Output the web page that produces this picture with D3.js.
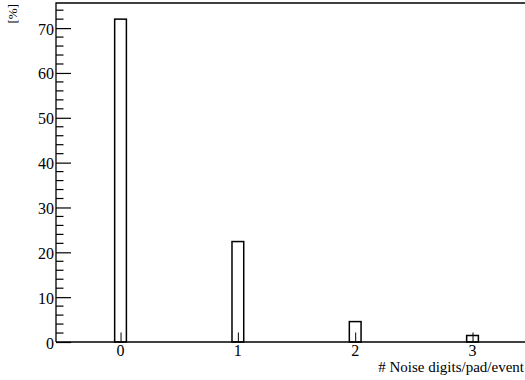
<!DOCTYPE html>
<html>
<head>
<meta charset="utf-8">
<script src="https://cdn.jsdelivr.net/npm/d3@7"></script>
<style>
  body{margin:0;background:#fff;}
  svg text{font-family:'Liberation Serif','Times New Roman',Tinos,FreeSerif,serif;}
</style>
</head>
<body>
<div class="canvas"></div>
<script>
// histogram data: bin centres and percentages
const bins=[0,1,2,3];
const pct=[72.0,22.4,4.55,1.45];
const xTicks=[0,1,2,3];
const yTicks=[0,10,20,30,40,50,60,70];
const binWidth=0.1;

const dims={width:525,height:380};
const frame={left:56,top:3,bottom:342};
const serif="'Liberation Serif','Times New Roman',Tinos,FreeSerif,serif";

const svg=d3.select('.canvas')
  .append('svg')
  .attr('width',dims.width)
  .attr('height',dims.height)
  .style('display','block');

// x range goes past the right edge, the picture is cut off there
const x=d3.scaleLinear().domain([-0.55,3.55]).range([frame.left,frame.left+4.1*117.33]);
const y=d3.scaleLinear().domain([0,75.6]).range([frame.bottom,frame.top]);

// bars
svg.append('g').selectAll('rect')
  .data(bins)
  .enter().append('rect')
  .attr('x',(d)=>x(d-binWidth/2))
  .attr('width',(d)=>x(d+binWidth/2)-x(d-binWidth/2))
  .attr('y',(d,i)=>y(pct[i]))
  .attr('height',(d,i)=>y(0)-y(pct[i]))
  .attr('fill','#fff')
  .attr('stroke','#000')
  .attr('stroke-width',1.5);

// frame (top + left), bottom drawn with x axis
svg.append('path')
  .attr('d',`M${frame.left},${frame.bottom}V${frame.top}H${dims.width+20}`)
  .attr('fill','none')
  .attr('stroke','#000')
  .attr('stroke-width',1.3);

// y axis: ticks point inwards, 5 subdivisions
const minor=d3.range(0,76,2).filter(v=>v%10!==0);
const yAxis=d3.axisRight(y).tickValues(yTicks).tickSize(15).tickFormat('');
const gy=svg.append('g').attr('transform',`translate(${frame.left},0)`).call(yAxis);
gy.select('.domain').remove();
gy.selectAll('line').attr('stroke-width',1.2);
gy.selectAll('.minor').data(minor).enter().append('line')
  .attr('class','minor')
  .attr('x1',0).attr('x2',7.5)
  .attr('y1',d=>y(d)).attr('y2',d=>y(d))
  .attr('stroke','#000').attr('stroke-width',1.2);
svg.append('g').selectAll('text').data(yTicks).enter().append('text')
  .attr('x',frame.left-2)
  .attr('y',d=>y(d)+6.5)
  .attr('text-anchor','end')
  .style('font-family',serif)
  .style('font-size','16px')
  .text(d=>d);

// x axis
const xAxis=d3.axisTop(x).tickValues(xTicks).tickSize(9.5).tickFormat('');
const gx=svg.append('g').attr('transform',`translate(0,${frame.bottom})`).call(xAxis);
gx.select('.domain').remove();
gx.selectAll('line').attr('stroke-width',1);
svg.append('line')
  .attr('x1',frame.left).attr('x2',dims.width+20)
  .attr('y1',frame.bottom).attr('y2',frame.bottom)
  .attr('stroke','#000').attr('stroke-width',1.5);
svg.append('g').selectAll('text').data(xTicks).enter().append('text')
  .attr('x',d=>x(d))
  .attr('y',356)
  .attr('text-anchor','middle')
  .style('font-family',serif)
  .style('font-size','16px')
  .text(d=>d);

// axis titles
svg.append('text')
  .attr('x',524)
  .attr('y',372)
  .attr('text-anchor','end')
  .style('font-family',serif)
  .style('font-size','15px')
  .text('# Noise digits/pad/event');

svg.append('text')
  .attr('transform','translate(16.5,4) rotate(-90)')
  .attr('text-anchor','end')
  .style('font-family',serif)
  .style('font-size','13px')
  .text('[%]');
</script>
</body>
</html>
